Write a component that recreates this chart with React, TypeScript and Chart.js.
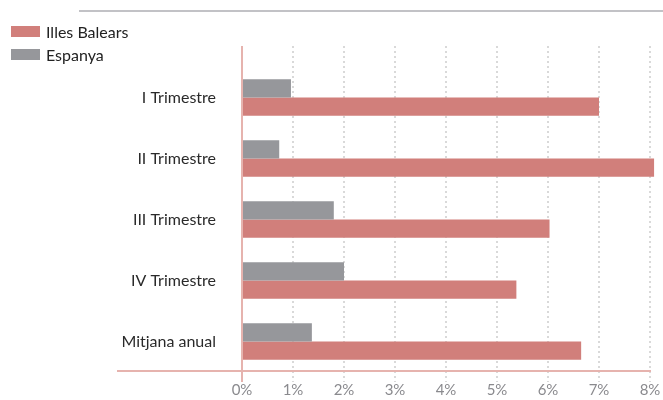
import React, { useEffect, useRef } from "react";
import { Chart, registerables } from "chart.js";

Chart.register(...registerables);

const categories = ["I Trimestre", "II Trimestre", "III Trimestre", "IV Trimestre", "Mitjana anual"];
const espanya = [0.96, 0.73, 1.8, 2.0, 1.37];
const balears = [7.0, 8.08, 6.03, 5.38, 6.65];
const xTicks = [0, 1, 2, 3, 4, 5, 6, 7, 8];

const PINK = "#d17f7b";
const GRAY = "#96979b";
const AXIS_PINK = "#e6b3ae";
const FONT = "Lato, 'Open Sans', sans-serif";

const decorPlugin = {
  id: "decor",
  beforeDatasetsDraw(chart: any) {
    const ctx = chart.ctx;
    const x = chart.scales.x;
    ctx.save();
    ctx.strokeStyle = "#d9d9d9";
    ctx.lineWidth = 2;
    ctx.setLineDash([2, 3]);
    xTicks.forEach((t) => {
      if (t === 0) return;
      const px = Math.round(x.getPixelForValue(t));
      ctx.beginPath();
      ctx.moveTo(px, 46);
      ctx.lineTo(px, 382);
      ctx.stroke();
    });
    ctx.setLineDash([]);
    ctx.strokeStyle = AXIS_PINK;
    ctx.lineWidth = 2;
    ctx.beginPath();
    ctx.moveTo(117, chart.chartArea.bottom - 1);
    ctx.lineTo(651, chart.chartArea.bottom - 1);
    ctx.stroke();
    ctx.restore();
  },
  afterDatasetsDraw(chart: any) {
    const ctx = chart.ctx;
    const x = chart.scales.x;
    const px = x.getPixelForValue(0);
    ctx.save();
    ctx.strokeStyle = AXIS_PINK;
    ctx.lineWidth = 2;
    ctx.beginPath();
    ctx.moveTo(px, 46);
    ctx.lineTo(px, 382);
    ctx.stroke();
    ctx.restore();
  },
};

const zeroPad = (s: any) => {
  s.paddingLeft = 0;
  s.paddingRight = 0;
  s.paddingTop = 0;
  s.paddingBottom = 0;
};

export default function App() {
  const ref = useRef<HTMLCanvasElement>(null);
  useEffect(() => {
    const chart = new Chart(ref.current!, {
      type: "bar",
      data: {
        labels: categories,
        datasets: [
          { label: "Espanya", data: espanya, backgroundColor: GRAY, categoryPercentage: 0.6, barPercentage: 1, clip: false as any },
          { label: "Illes Balears", data: balears, backgroundColor: PINK, categoryPercentage: 0.6, barPercentage: 1, clip: false as any },
        ],
      },
      options: {
        indexAxis: "y",
        responsive: false,
        animation: false,
        layout: { padding: { left: 0, right: 13, top: 67, bottom: 0 } },
        plugins: { legend: { display: false }, tooltip: { enabled: false } },
        scales: {
          x: {
            min: 0,
            max: 8,
            grid: { display: false, drawTicks: false },
            border: { display: false },
            ticks: {
              stepSize: 1,
              padding: 9,
              color: "#8a8a8e",
              font: { family: FONT, size: 15 },
              callback: (v: any) => v + "%",
            },
            afterFit: (s: any) => { s.height = 28; zeroPad(s); },
          },
          y: {
            grid: { display: false, drawTicks: false },
            border: { display: false },
            ticks: {
              padding: 26,
              color: "#2a2a2a",
              font: { family: FONT, size: 16 },
            },
            afterFit: (s: any) => { s.width = 242; zeroPad(s); },
          },
        },
      },
      plugins: [decorPlugin],
    });
    return () => chart.destroy();
  }, []);

  return (
    <div style={{ position: "fixed", left: 0, top: 0, width: 663, height: 400, background: "#fff", fontFamily: FONT }}>
      <div style={{ position: "absolute", left: 79, top: 10, width: 584, height: 2, background: "#c2c2c6" }} />
      <canvas ref={ref} width={663} height={400} style={{ position: "absolute", left: 0, top: 0 }} />
      <div style={{ position: "absolute", left: 11, top: 23, fontSize: 16, color: "#222", lineHeight: "17px" }}>
        <div style={{ display: "flex", alignItems: "center", height: 17 }}>
          <span style={{ display: "inline-block", width: 29, height: 11, background: PINK, marginRight: 6 }} />
          <span>Illes Balears</span>
        </div>
        <div style={{ display: "flex", alignItems: "center", height: 17, marginTop: 6 }}>
          <span style={{ display: "inline-block", width: 29, height: 11, background: GRAY, marginRight: 6 }} />
          <span>Espanya</span>
        </div>
      </div>
    </div>
  );
}
